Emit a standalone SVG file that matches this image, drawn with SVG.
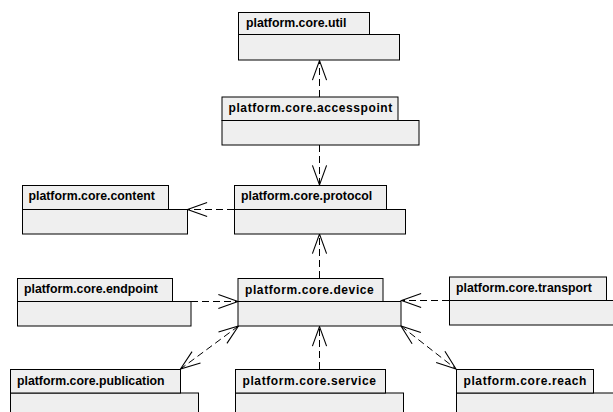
<svg xmlns="http://www.w3.org/2000/svg" width="613" height="412" viewBox="0 0 613 412">
<defs>
<style>
.tab,.body{fill:#efefef;stroke:#000;stroke-width:1}
.lbl{font-family:"Liberation Sans",Arial,sans-serif;font-weight:bold;font-size:12.3px;fill:#000}
.sp{font-size:12px;letter-spacing:0.6px}
.dep{fill:none;stroke:#000;stroke-width:1;stroke-dasharray:7 4}
</style>
<marker id="open" markerUnits="userSpaceOnUse" markerWidth="24" markerHeight="20" viewBox="-20 -9 22 18" refX="0" refY="0" orient="auto-start-reverse" overflow="visible">
<path d="M-18,-6.5 L0,0 L-18,6.5" fill="none" stroke="#000" stroke-width="1" stroke-dasharray="none"/>
</marker>
</defs>
<rect width="613" height="412" fill="#fff"/>
<g id="connectors">
<line class="dep" x1="319.5" y1="97" x2="319.5" y2="60.5" marker-end="url(#open)"/>
<line class="dep" x1="319.5" y1="145" x2="319.5" y2="185" marker-end="url(#open)"/>
<line class="dep" x1="234" y1="209.5" x2="187.5" y2="209.5" marker-end="url(#open)"/>
<line class="dep" x1="319.5" y1="278" x2="319.5" y2="234" marker-end="url(#open)"/>
<line class="dep" x1="191" y1="301.5" x2="238" y2="301.5" marker-end="url(#open)"/>
<line class="dep" x1="449" y1="300.5" x2="401.5" y2="300.5" marker-end="url(#open)"/>
<line class="dep" x1="238.5" y1="326" x2="180.5" y2="369" marker-start="url(#open)" marker-end="url(#open)"/>
<line class="dep" x1="319.5" y1="369" x2="319.5" y2="326.5" marker-end="url(#open)"/>
<line class="dep" x1="401" y1="326" x2="456" y2="369" marker-start="url(#open)" marker-end="url(#open)"/>
</g>
<g id="util">
<rect class="body" x="238.5" y="34.5" width="161" height="25.5"/>
<rect class="tab" x="238.5" y="12.5" width="131" height="22"/>
<text class="lbl" x="246" y="27">platform.core.util</text>
</g>
<g id="accesspoint">
<rect class="body" x="222" y="120.5" width="197" height="24.5"/>
<rect class="tab" x="222" y="97" width="176" height="23.5"/>
<text class="lbl sp" x="228.5" y="112">platform.core.accesspoint</text>
</g>
<g id="content">
<rect class="body" x="22.5" y="209.5" width="165" height="24.5"/>
<rect class="tab" x="22.5" y="185.5" width="146" height="24"/>
<text class="lbl" x="28.5" y="200">platform.core.content</text>
</g>
<g id="protocol">
<rect class="body" x="234.5" y="209.5" width="171" height="24.5"/>
<rect class="tab" x="234.5" y="185.5" width="152" height="24"/>
<text class="lbl" x="241" y="200">platform.core.protocol</text>
</g>
<g id="endpoint">
<rect class="body" x="17.5" y="301.5" width="173.5" height="24.5"/>
<rect class="tab" x="17.5" y="278.5" width="155" height="23"/>
<text class="lbl" x="24" y="293">platform.core.endpoint</text>
</g>
<g id="device">
<rect class="body" x="238" y="301.5" width="163" height="24.5"/>
<rect class="tab" x="238" y="278.5" width="145" height="23"/>
<text class="lbl sp" x="245" y="293.5">platform.core.device</text>
</g>
<g id="transport">
<rect class="body" x="449.5" y="300.5" width="170" height="24.5"/>
<rect class="tab" x="449.5" y="277" width="157" height="23.5"/>
<text class="lbl" x="456" y="292">platform.core.transport</text>
</g>
<g id="publication">
<rect class="body" x="10.5" y="393" width="188" height="30"/>
<rect class="tab" x="10.5" y="369.5" width="170" height="23.5"/>
<text class="lbl" x="17" y="384.5">platform.core.publication</text>
</g>
<g id="service">
<rect class="body" x="235.5" y="393" width="168" height="30"/>
<rect class="tab" x="235.5" y="369.5" width="150" height="23.5"/>
<text class="lbl sp" x="242.5" y="384.5">platform.core.service</text>
</g>
<g id="reach">
<rect class="body" x="456.5" y="393" width="170" height="30"/>
<rect class="tab" x="456.5" y="369.5" width="137" height="23.5"/>
<text class="lbl sp" x="463.5" y="384.5">platform.core.reach</text>
</g>
</svg>
